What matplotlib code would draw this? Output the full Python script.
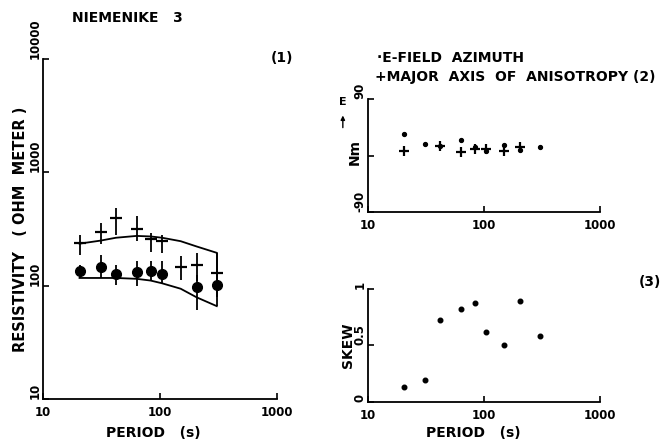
import numpy as np
import matplotlib
matplotlib.use("Agg")
import matplotlib.pyplot as plt

# periods (s) of the sounding
period = [20.5, 31, 42, 63, 83, 104, 150, 205, 305]

# apparent resistivity, crosses and dots, with error limits (ohm m)
rho_cross = [239, 299, 392, 317, 259, 250, 145, 153, 129]
rho_cross_lo = [188, 235, 283, 247, 197, 195, 113, 109, 105]
rho_cross_hi = [283, 354, 487, 410, 292, 283, 182, 195, 195]
rho_dot = [136, 145, 128, 131, 136, 128, np.nan, 97, 102]
rho_dot_lo = [117, 117, 102, 99, 113, 105, np.nan, 61, 80]
rho_dot_hi = [153, 188, 153, 164, 164, 164, np.nan, 125, 125]

# model envelope
rho_upper = [235, 250, 265, 275, 272, 265, 247, 222, 195]
rho_lower = [117, 117, 117, 115, 111, 105, 94, 79, 66]

# azimuths (deg)
efield_az = [34.7, 18.9, 16, 25.3, 13, 8, 17, 9, 13.2]
aniso_az = [7.9, np.nan, 15.8, 5.3, 10.5, 10.5, 6.8, 13.2, np.nan]

# skew
skew = [0.135, 0.195, 0.726, 0.826, 0.876, 0.62, 0.502, 0.891, 0.58]

plt.rcParams['font.family'] = ['DejaVu Sans']
plt.rcParams['font.weight'] = 'bold'
TICKFS = 8.5
LABFS = 10

fig = plt.figure(figsize=(6.67, 4.42), dpi=100)


def style(ax):
    for s in ('top', 'right'):
        ax.spines[s].set_visible(False)
    for s in ('left', 'bottom'):
        ax.spines[s].set_linewidth(1.3)
    ax.tick_params(direction='in', length=4, width=1.2, labelsize=TICKFS)
    ax.tick_params(axis='x', pad=5)
    ax.tick_params(axis='y', pad=1)
    ax.tick_params(which='minor', length=0)
    ax.set_xscale('log')
    ax.set_xlim(10, 1000)
    ax.set_xticks([10, 100, 1000])
    ax.set_xticklabels(['10', '100', '1000'])


def rot_ylabels(ax, ticks, labels):
    ax.set_yticks(ticks)
    ax.set_yticklabels(labels, rotation=90, va='bottom')


# (1) resistivity
ax1 = fig.add_axes([0.0645, 0.0973, 0.351, 0.769])
style(ax1)
ax1.set_yscale('log')
ax1.set_ylim(10, 10000)
rot_ylabels(ax1, [10, 100, 1000, 10000], ['10', '100', '1000', '10000'])

p = np.array(period)
rc = np.array(rho_cross)
ax1.errorbar(p, rc, yerr=[rc - np.array(rho_cross_lo), np.array(rho_cross_hi) - rc],
             fmt='_', color='black', ms=8, mew=1.6, elinewidth=1.3, capsize=0)
rd = np.array(rho_dot)
ax1.errorbar(p, rd, yerr=[rd - np.array(rho_dot_lo), np.array(rho_dot_hi) - rd],
             fmt='o', color='black', ms=7, elinewidth=1.3, capsize=0)
ax1.plot(p, rho_upper, color='black', lw=1.3)
ax1.plot(p, rho_lower, color='black', lw=1.3)
ax1.vlines(p[-1], rho_lower[-1], rho_upper[-1], color='black', lw=1.3)

fig.text(0.03, 0.482, 'RESISTIVITY   ( OHM  METER )', rotation=90,
         ha='center', va='center', fontsize=10.5)
fig.text(0.23, 0.02, 'PERIOD   (s)', ha='center', va='center', fontsize=LABFS)
fig.text(0.108, 0.96, 'NIEMENIKE   3', ha='left', va='center', fontsize=LABFS)
fig.text(0.423, 0.868, '(1)', ha='center', va='center', fontsize=LABFS)

# (2) azimuths
ax2 = fig.add_axes([0.5517, 0.520, 0.348, 0.2557])
style(ax2)
ax2.set_ylim(-90, 90)
rot_ylabels(ax2, [-90, 0, 90], ['-90', '', '90'])
ax2.plot(period, efield_az, 'o', color='black', ms=2.8, ls='none')
ax2.plot(period, aniso_az, '+', color='black', ms=7, mew=1.6, ls='none')
fig.text(0.532, 0.655, 'Nm', rotation=90, ha='center', va='center', fontsize=LABFS)
fig.text(0.514, 0.77, 'E', ha='center', va='center', fontsize=8)
ax2.annotate('', xy=(0.514, 0.745), xytext=(0.514, 0.705), xycoords='figure fraction',
             arrowprops=dict(arrowstyle='-|>', color='black', lw=1, mutation_scale=6))
fig.text(0.565, 0.868, '·E-FIELD  AZIMUTH', ha='left', va='center', fontsize=LABFS)
fig.text(0.562, 0.826, '+MAJOR  AXIS  OF  ANISOTROPY (2)', ha='left', va='center',
         fontsize=LABFS)

# (3) skew
ax3 = fig.add_axes([0.5517, 0.0905, 0.348, 0.2557])
style(ax3)
ax3.set_ylim(0, 1)
rot_ylabels(ax3, [0, 0.5, 1], ['0', '0.5', '1'])
ax3.plot(period, skew, 'o', color='black', ms=3.3, ls='none')
fig.text(0.521, 0.22, 'SKEW', rotation=90, ha='center', va='center', fontsize=LABFS)
fig.text(0.71, 0.02, 'PERIOD   (s)', ha='center', va='center', fontsize=LABFS)
fig.text(0.975, 0.362, '(3)', ha='center', va='center', fontsize=LABFS)

fig.savefig('out.png', dpi=100)
